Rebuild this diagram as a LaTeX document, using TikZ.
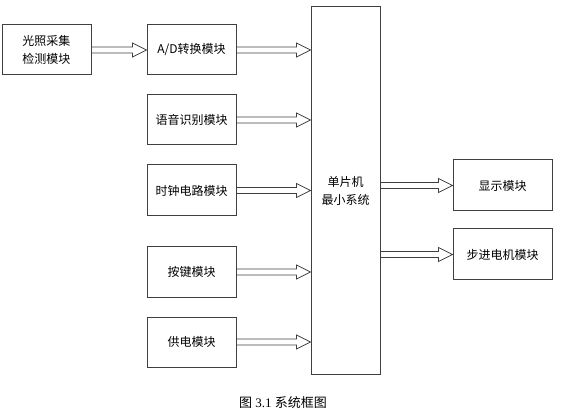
\documentclass[tikz,border=0pt]{standalone}
\usepackage{fontspec}
\setmainfont{Liberation Serif}
\newfontfamily\cjk{Noto Sans CJK SC}
\usetikzlibrary{calc}
\tikzset{
  blk/.style={draw=black!75,line width=1pt,fill=white,inner sep=0pt,
    minimum width=89pt,minimum height=50pt,align=center,font=\cjk\fontsize{12}{18}\selectfont},
  harr/.style={draw=black!75,line width=.8pt}
}
% hollow arrow from the first point to the second, kept level
\newcommand\harrow[2]{%
  \draw[harr] let \p1=(#1),\p2=(#2) in
    (\x1,\y1+3pt)--(\x2-14pt,\y1+3pt)--(\x2-14pt,\y1+7pt)--(\x2,\y1)
    --(\x2-14pt,\y1-7pt)--(\x2-14pt,\y1-3pt)--(\x1,\y1-3pt)--cycle;}
\begin{document}
\begin{tikzpicture}[x=1pt,y=-1pt]
  \useasboundingbox (0,0) rectangle (563,417);
  \path (46.5,50) node[blk] (light) {光照采集\\检测模块}
        (191.5,50) node[blk] (ad) {A/D转换模块}
        (191.5,120) node[blk] (voice) {语音识别模块}
        (191.5,190.5) node[blk,minimum height=51pt] (clock) {时钟电路模块}
        (191.5,272) node[blk] (key) {按键模块}
        (191.5,342) node[blk] (power) {供电模块};
  \path (345.5,190.5) node[blk,minimum width=69pt,minimum height=367pt] (mcu) {单片机\\最小系统};
  \path (502.5,185.5) node[blk,minimum width=99pt,minimum height=51pt] (disp) {显示模块}
        (502.5,254.5) node[blk,minimum width=99pt,minimum height=51pt] (motor) {步进电机模块};
  \harrow{light.east}{ad.west}
  \harrow{ad.east}{mcu.west}
  \harrow{voice.east}{mcu.west}
  \harrow{clock.east}{mcu.west}
  \harrow{key.east}{mcu.west}
  \harrow{power.east}{mcu.west}
  \harrow{mcu.east |- disp.west}{disp.west}
  \harrow{mcu.east |- motor.west}{motor.west}
  \path (283,403) node[font=\fontsize{13}{15}\selectfont] (cap) {{\cjk 图} 3.1 {\cjk 系统框图}};
\end{tikzpicture}
\end{document}
